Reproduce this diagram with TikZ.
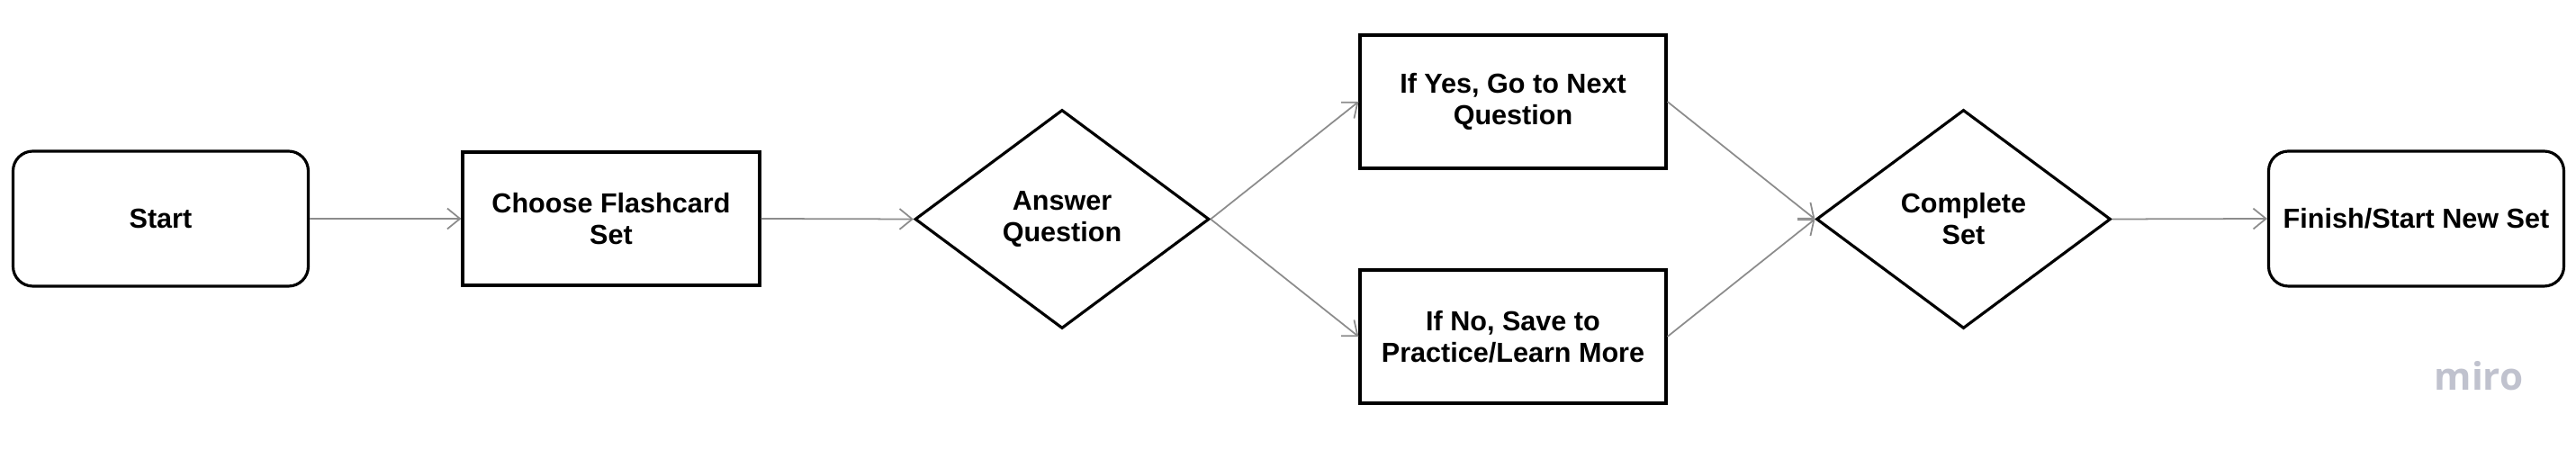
\documentclass[tikz,border=0pt]{standalone}
\usepackage{fontspec}
\setmainfont{Liberation Sans}
\newfontfamily\mirofont{Open Sans}
\usepackage{xcolor}
\usepackage{tikz}
\usetikzlibrary{
    arrows.meta,
    shapes.geometric
}
\definecolor{flowGrey}{RGB}{140,140,140}
\definecolor{miroGrey}{RGB}{192,194,206}

\begin{document}
\begin{tikzpicture}[
    font=\fontsize{8.7}{10}\selectfont\bfseries,
    >={Straight Barb[length=4pt,width=6.5pt]},
    terminal/.style={
        draw,
        rounded corners=0.22cm,
        line width=0.9pt,
        minimum width=3.28cm,
        minimum height=1.50cm,
        align=center
    },
    process/.style={
        draw,
        rectangle,
        line width=0.9pt,
        minimum width=3.30cm,
        minimum height=1.48cm,
        align=center
    },
    decision/.style={
        draw,
        diamond,
        line width=0.9pt,
        minimum width=3.27cm,
        minimum height=2.43cm,
        inner sep=0pt,
        align=center
    },
    flow/.style={
        ->,
        flowGrey,
        line width=0.5pt
    }
]

\useasboundingbox (0,0) rectangle (28.62,5.00);

% =============================================================
% Flashcard study loop
% =============================================================

% Start and end of the loop
\node[terminal] (start) at (1.785,2.57) {Start};

\node[terminal] (finish) at (26.845,2.57) {Finish/Start New Set};

% Steps
\node[process] (choose) at (6.79,2.57) {Choose Flashcard\\Set};

\node[process, minimum width=3.40cm] (yes) at (16.81,3.87)
{If Yes, Go to Next\\Question};

\node[process, minimum width=3.40cm] (no) at (16.81,1.26)
{If No, Save to\\Practice/Learn More};

% Decisions
\node[decision] (answer) at (11.80,2.565) {Answer\\Question};

\node[decision] (complete) at (21.815,2.565) {Complete\\Set};

% Connectors
\draw[flow] (start.east) -- (choose.west);
\draw[flow] (choose.east) -- (answer.west);
\draw[flow] (answer.east) -- (yes.west);
\draw[flow] (answer.east) -- (no.west);
\draw[flow] (yes.east) -- (complete.west);
\draw[flow] (no.east) -- (complete.west);
\draw[flow] (complete.east) -- (finish.west);

% Watermark
\node[
    font=\mirofont\fontsize{12}{12}\selectfont\bfseries,
    text=miroGrey
] (miro) at (27.54,0.82) {miro};

\end{tikzpicture}
\end{document}
